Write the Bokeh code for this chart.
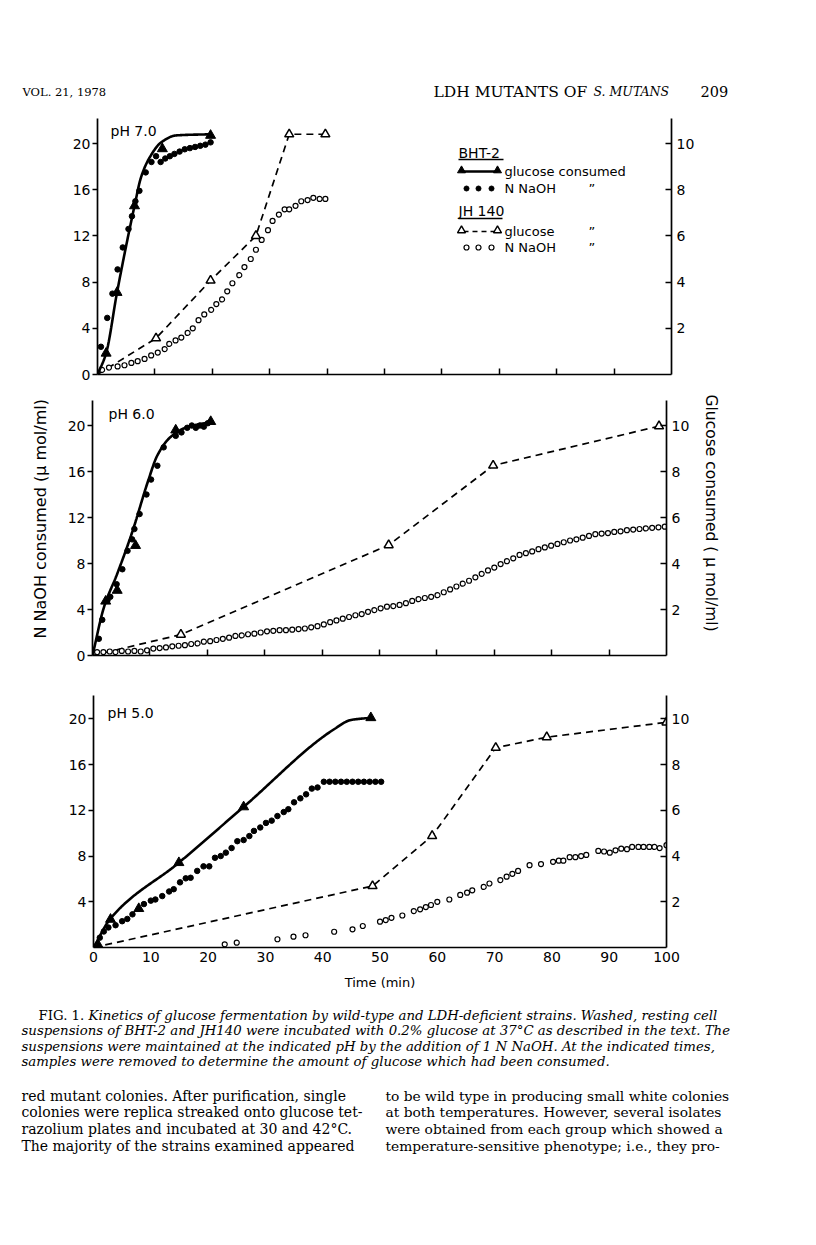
import math
import numpy as np
from bokeh.plotting import figure
from bokeh.models import Range1d, LinearAxis, FixedTicker, Title
from bokeh.layouts import column
from bokeh.embed import file_html
from bokeh.resources import INLINE
from bokeh.core.properties import value

SANS = "DejaVu Sans"
SERIF = "DejaVu Serif"

# ------------------------------------------------------------------ data
# glucose values in umol/ml (right axis), NaOH in umol/ml (left axis), time in min
# ---- pH 7.0
ph7_bht_glc_t = [1.5, 3.4, 6.45, 11.3, 19.7]
ph7_bht_glc = [0.92, 3.55, 7.3, 9.77, 10.35]
ph7_bht_fit_t = [0, 1.5, 3.4, 6.45, 7.6, 9.1, 11.1, 13.7, 19.7]
ph7_bht_fit = [0, 0.92, 3.55, 7.3, 8.55, 9.4, 10.05, 10.35, 10.4]
ph7_bht_naoh_t = [0.6, 1.7, 2.6, 3.5, 4.4, 5.4, 6.0, 6.6, 7.3, 8.4, 9.4, 10.2, 11.0, 11.8,
                  12.6, 13.4, 14.3, 15.2, 16.1, 17.0, 17.9, 18.8, 19.7]
ph7_bht_naoh = [2.4, 4.9, 7.0, 9.1, 11.0, 12.6, 13.7, 15.0, 15.9, 17.5, 18.4, 18.9, 18.4, 18.7,
                18.9, 19.1, 19.3, 19.5, 19.6, 19.7, 19.8, 19.9, 20.1]
ph7_jh_glc_t = [0, 10.2, 19.7, 27.6, 33.4, 39.7]
ph7_jh_glc = [0, 1.57, 4.07, 6.0, 10.4, 10.4]
ph7_jh_naoh_t = [0.8, 2.0, 3.5, 4.7, 5.9, 7.0, 8.2, 9.35, 10.5, 11.7, 12.5, 13.6, 14.6, 15.7,
                 16.6, 17.6, 18.6, 19.8, 20.7, 21.7, 22.6, 23.5, 24.7, 25.6, 26.7, 27.6, 28.6,
                 29.7, 30.5, 31.6, 32.6, 33.4, 34.5, 35.5, 36.6, 37.6, 38.7, 39.7]
ph7_jh_naoh = [0.4, 0.6, 0.7, 0.8, 1.0, 1.15, 1.35, 1.65, 1.9, 2.2, 2.65, 2.95, 3.2, 3.6,
               4.0, 4.7, 5.2, 5.6, 6.1, 6.5, 7.2, 7.9, 8.6, 9.3, 10.0, 10.8, 11.65,
               12.5, 13.3, 13.85, 14.3, 14.3, 14.6, 15.0, 15.1, 15.3, 15.2, 15.2]

# ---- pH 6.0
ph6_bht_glc_t = [2.3, 4.3, 7.5, 14.5, 20.6]
ph6_bht_glc = [2.36, 2.83, 4.78, 9.8, 10.17]
ph6_bht_fit_t = [0, 2.0, 4.3, 6.9, 9.7, 11.3, 13.6, 16.5, 20.6]
ph6_bht_fit = [0, 2.1, 3.55, 5.35, 7.6, 8.7, 9.5, 9.93, 10.15]
ph6_bht_naoh_t = [1.1, 1.7, 2.6, 3.1, 4.2, 5.2, 6.1, 6.9, 7.3, 8.2, 9.4, 10.2, 11.3, 12.4,
                  14.5, 15.5, 16.5, 17.3, 18.0, 18.7, 19.4, 20.1]
ph6_bht_naoh = [1.45, 3.1, 4.8, 5.1, 6.2, 7.5, 9.1, 10.1, 11.0, 12.3, 14.0, 15.3, 16.5, 18.1,
                19.1, 19.4, 19.8, 20.0, 19.8, 20.0, 19.9, 20.2]
ph6_jh_glc_t = [0, 15.4, 51.6, 69.8, 98.7]
ph6_jh_glc = [0, 0.91, 4.8, 8.26, 9.97]
ph6_jh_naoh_t = [0.8, 1.9, 3.0, 4.0, 5.1, 6.2, 7.3, 8.4, 9.5, 10.6, 11.7, 12.8, 13.9, 15.0,
                 16.1, 17.2, 18.3, 19.4, 20.5, 21.6, 22.7, 23.8, 24.9, 26.0, 27.1, 28.2, 29.3,
                 30.4, 31.5, 32.6, 33.7, 34.8, 35.9, 37.0, 38.1, 39.2, 40.3, 41.4, 42.5, 43.6,
                 44.7, 45.8, 46.9, 48.0, 49.1, 50.2, 51.3, 52.4, 53.5, 54.6, 55.7, 56.8, 57.9,
                 59.0, 60.1, 61.2, 62.3, 63.4, 64.5, 65.6, 66.7, 67.8, 68.9, 70.0, 71.1, 72.2,
                 73.3, 74.4, 75.5, 76.6, 77.7, 78.8, 79.9, 81.0, 82.1, 83.2, 84.3, 85.4, 86.5,
                 87.6, 88.7, 89.8, 90.9, 92.0, 93.1, 94.2, 95.3, 96.4, 97.5, 98.6, 99.7]
ph6_jh_naoh = [0.3, 0.3, 0.35, 0.3, 0.4, 0.35, 0.4, 0.35, 0.45, 0.6, 0.65, 0.7, 0.8, 0.85,
               0.9, 1.0, 1.05, 1.2, 1.25, 1.35, 1.45, 1.55, 1.7, 1.75, 1.85, 1.9, 2.0,
               2.1, 2.15, 2.2, 2.2, 2.25, 2.3, 2.35, 2.45, 2.55, 2.7, 2.9, 3.05, 3.2,
               3.35, 3.5, 3.6, 3.8, 3.95, 4.1, 4.25, 4.3, 4.4, 4.55, 4.75, 4.9, 5.0,
               5.1, 5.25, 5.5, 5.75, 6.0, 6.25, 6.5, 6.8, 7.1, 7.4, 7.65, 7.95, 8.2,
               8.45, 8.75, 8.9, 9.05, 9.25, 9.4, 9.55, 9.7, 9.85, 10.0, 10.1, 10.25, 10.4,
               10.55, 10.6, 10.65, 10.75, 10.8, 10.9, 10.95, 11.0, 11.05, 11.1, 11.15, 11.2]

# ---- pH 5.0
ph5_bht_glc_t = [0.9, 2.97, 7.9, 14.9, 26.2, 48.4]
ph5_bht_glc = [0.07, 1.23, 1.7, 3.71, 6.15, 10.05]
ph5_bht_fit_t = [0, 2.97, 14.9, 26.2, 42.0, 44.9, 48.4]
ph5_bht_fit = [0, 1.27, 3.71, 6.15, 9.55, 9.95, 10.05]
ph5_bht_naoh_t = [1.1, 1.8, 2.6, 3.85, 5.0, 5.9, 6.8, 8.8, 10.0, 10.8, 12.0, 13.2, 14.0, 15.1,
                  16.1, 16.95, 18.1, 19.2, 20.2, 21.2, 22.2, 23.1, 24.1, 25.1, 26.2, 27.2, 28.0,
                  29.1, 30.1, 31.1, 32.1, 33.2, 34.0, 35.0, 36.1, 37.1, 38.1, 39.1, 40.2, 41.2,
                  42.2, 43.2, 44.2, 45.2, 46.2, 47.2, 48.2, 49.2, 50.2]
ph5_bht_naoh = [0.86, 1.4, 1.75, 1.95, 2.3, 2.5, 2.9, 3.8, 4.1, 4.2, 4.5, 4.9, 5.1, 5.7,
                6.05, 6.1, 6.7, 7.1, 7.1, 7.85, 8.0, 8.3, 8.7, 9.3, 9.4, 9.75, 10.2,
                10.5, 10.9, 11.1, 11.5, 11.85, 12.1, 12.7, 13.05, 13.4, 13.9, 14.0, 14.5, 14.5,
                14.5, 14.5, 14.5, 14.5, 14.5, 14.5, 14.5, 14.5, 14.5]
ph5_jh_glc_t = [0, 48.7, 59.1, 70.2, 79.1, 100.0]
ph5_jh_glc = [0, 2.69, 4.88, 8.74, 9.2, 9.85]
ph5_jh_naoh_t = [22.9, 25.0, 32.1, 34.9, 37.0, 42.0, 45.2, 47.0, 50.0, 51.0, 52.0, 53.9, 55.9,
                 57.0, 58.0, 58.9, 60.0, 62.1, 64.0, 65.2, 66.1, 68.1, 69.1, 71.0, 72.1, 73.1,
                 74.1, 76.1, 78.1, 80.2, 81.2, 82.0, 83.1, 84.1, 85.1, 86.0, 88.1, 89.1, 90.1,
                 91.1, 92.1, 93.1, 94.0, 95.1, 96.0, 97.0, 97.9, 98.8, 100.0]
ph5_jh_naoh = [0.28, 0.42, 0.72, 0.95, 1.07, 1.38, 1.59, 1.88, 2.26, 2.4, 2.6, 2.8, 3.19,
               3.34, 3.54, 3.72, 4.0, 4.2, 4.6, 4.8, 5.0, 5.3, 5.6, 5.9, 6.2, 6.45,
               6.7, 7.2, 7.3, 7.5, 7.6, 7.6, 7.9, 7.9, 8.0, 8.1, 8.45, 8.4, 8.3,
               8.5, 8.65, 8.6, 8.8, 8.8, 8.8, 8.8, 8.8, 8.7, 8.95]

# ---- ticks / texts
left_ticks = [0, 4, 8, 12, 16, 20]
left_ticks_bottom = [4, 8, 12, 16, 20]
right_ticks = [2, 4, 6, 8, 10]
x_ticks = [10, 20, 30, 40, 50, 60, 70, 80, 90]
x_ticks_bottom = [0, 10, 20, 30, 40, 50, 60, 70, 80, 90, 100]
ph_labels = ["pH 7.0", "pH 6.0", "pH 5.0"]
y_title_left = "N NaOH consumed (\u00b5 mol/ml)"
y_title_right = "Glucose consumed ( \u00b5 mol/ml)"
x_title = "Time (min)"
legend_heads = ["BHT-2", "JH 140"]
legend_texts = ["glucose consumed", "N NaOH", "glucose", "N NaOH"]
ditto = "\u201d"

header_left = "VOL. 21, 1978"
header_title = "LDH MUTANTS OF "
header_title_it = "S. MUTANS"
header_page = "209"
caption_fig = "FIG. 1."
caption_lines = [
    "Kinetics of glucose fermentation by wild-type and LDH-deficient strains. Washed, resting cell",
    "suspensions of BHT-2 and JH140 were incubated with 0.2% glucose at 37\u00b0C as described in the text. The",
    "suspensions were maintained at the indicated pH by the addition of 1 N NaOH. At the indicated times,",
    "samples were removed to determine the amount of glucose which had been consumed.",
]
body_left = [
    "red mutant colonies. After purification, single",
    "colonies were replica streaked onto glucose tet-",
    "razolium plates and incubated at 30 and 42\u00b0C.",
    "The majority of the strains examined appeared",
]
body_right = [
    "to be wild type in producing small white colonies",
    "at both temperatures. However, several isolates",
    "were obtained from each group which showed a",
    "temperature-sensitive phenotype; i.e., they pro-",
]

PAGE_W = 816


def pchip(xk, yk, n=240):
    x = np.asarray(xk, float)
    y = np.asarray(yk, float)
    h = np.diff(x)
    d = np.diff(y) / h
    m = np.zeros_like(x)
    m[0], m[-1] = d[0], d[-1]
    for k in range(1, len(x) - 1):
        if d[k - 1] * d[k] > 0:
            w1 = 2 * h[k] + h[k - 1]
            w2 = h[k] + 2 * h[k - 1]
            m[k] = (w1 + w2) / (w1 / d[k - 1] + w2 / d[k])
    xs = np.linspace(x[0], x[-1], n)
    idx = np.clip(np.searchsorted(x, xs) - 1, 0, len(x) - 2)
    t = (xs - x[idx]) / h[idx]
    h00 = 2 * t**3 - 3 * t**2 + 1
    h10 = t**3 - 2 * t**2 + t
    h01 = -2 * t**3 + 3 * t**2
    h11 = t**3 - t**2
    ys = h00 * y[idx] + h10 * h[idx] * m[idx] + h01 * y[idx + 1] + h11 * h[idx] * m[idx + 1]
    return xs, ys


def no_align(p):
    try:
        p.frame_align = False
    except Exception:
        pass


# panel geometry (pixels): height, border top, border bottom, border left, frame width, px per NaOH unit
GEOM = [
    dict(height=292, top=18, bottom=18, left=97, w=574, ppu=11.55),
    dict(height=281, top=8, bottom=18, left=92, w=574, ppu=11.5),
    dict(height=327, top=22, bottom=53, left=93, w=573, ppu=11.43),
]


def make_panel(i, data, show_labels):
    g = GEOM[i]
    fh = g["height"] - g["top"] - g["bottom"]
    ymax = fh / g["ppu"]
    p = figure(width=PAGE_W, height=g["height"], x_range=Range1d(0, 100), y_range=Range1d(0, ymax),
               output_backend="svg", toolbar_location=None,
               min_border_top=g["top"], min_border_bottom=g["bottom"],
               min_border_left=g["left"], min_border_right=PAGE_W - g["left"] - g["w"],
               x_axis_location=None, y_axis_location=None)
    no_align(p)
    p.grid.visible = False
    p.outline_line_color = None
    p.background_fill_color = "white"
    p.border_fill_color = "white"
    p.extra_y_ranges = {"g": Range1d(0, ymax / 2)}

    common = dict(axis_line_width=1.7, axis_line_color="black", major_tick_line_width=1.5,
                  minor_tick_in=0, minor_tick_out=0,
                  major_label_text_font=SANS, major_label_text_font_size="14px",
                  major_label_text_color="black")
    lt = left_ticks_bottom if show_labels else left_ticks
    la = LinearAxis(ticker=FixedTicker(ticks=lt), major_tick_out=5, major_tick_in=0,
                    major_label_standoff=2, **common)
    p.add_layout(la, "left")
    ra = LinearAxis(y_range_name="g", ticker=FixedTicker(ticks=right_ticks), major_tick_out=0,
                    major_tick_in=6, major_label_standoff=5, **common)
    p.add_layout(ra, "right")
    if show_labels:
        ba = LinearAxis(ticker=FixedTicker(ticks=x_ticks_bottom), major_tick_out=0, major_tick_in=0,
                        major_label_standoff=4, axis_label=x_title,
                        axis_label_text_font=SANS, axis_label_text_font_size="13px",
                        axis_label_text_font_style="normal", axis_label_standoff=10,
                        axis_label_text_color="black", **common)
    else:
        cb = dict(common)
        cb["major_label_text_font_size"] = "1px"
        ba = LinearAxis(ticker=FixedTicker(ticks=x_ticks), major_tick_out=0, major_tick_in=6,
                        major_label_standoff=0,
                        major_label_overrides={t: "" for t in x_ticks}, **cb)
    p.add_layout(ba, "below")

    (bg_t, bg, bf_t, bf, bn_t, bn, jg_t, jg, jn_t, jn) = data
    # JH140
    p.line(jg_t, jg, y_range_name="g", line_color="black", line_width=1.7, line_dash="7 5")
    p.scatter(jn_t, jn, marker="circle", size=5, fill_color="white", line_color="black",
              line_width=1.2)
    p.scatter(jg_t[1:], jg[1:], marker="triangle", size=9, y_range_name="g",
              fill_color="white", line_color="black", line_width=1.5)
    # BHT-2
    fx, fy = pchip(bf_t, bf)
    p.line(fx, fy, y_range_name="g", line_color="black", line_width=2.6)
    p.scatter(bn_t, bn, marker="circle", size=5.5, fill_color="black", line_color="black")
    p.scatter(bg_t, bg, marker="triangle", size=10, y_range_name="g",
              fill_color="black", line_color="black")

    # pH label (position in pixels from frame top-left)
    px2x = lambda px: px / g["w"] * 100
    py2y = lambda py: ymax - py / g["ppu"]
    pos = [(13, 12), (16, 13), (14, 17)][i]
    p.text(x=[px2x(pos[0])], y=[py2y(pos[1])], text=[ph_labels[i]], text_font=value(SANS),
           text_font_size="14px", text_baseline="middle", text_align="left", text_color="black")
    return p, px2x, py2y


p1, x1, y1 = make_panel(0, (ph7_bht_glc_t, ph7_bht_glc, ph7_bht_fit_t, ph7_bht_fit,
                            ph7_bht_naoh_t, ph7_bht_naoh, ph7_jh_glc_t, ph7_jh_glc,
                            ph7_jh_naoh_t, ph7_jh_naoh), False)
p2, x2, y2 = make_panel(1, (ph6_bht_glc_t, ph6_bht_glc, ph6_bht_fit_t, ph6_bht_fit,
                            ph6_bht_naoh_t, ph6_bht_naoh, ph6_jh_glc_t, ph6_jh_glc,
                            ph6_jh_naoh_t, ph6_jh_naoh), False)
p3, x3, y3 = make_panel(2, (ph5_bht_glc_t, ph5_bht_glc, ph5_bht_fit_t, ph5_bht_fit,
                            ph5_bht_naoh_t, ph5_bht_naoh, ph5_jh_glc_t, ph5_jh_glc,
                            ph5_jh_naoh_t, ph5_jh_naoh), True)

# ---- legend in top panel (pixel offsets inside the frame, converted to data units)
ft = dict(text_font=value(SANS), text_font_size="13px", text_baseline="middle",
          text_align="left", text_color="black")
p1.text(x=[x1(361), x1(361)], y=[y1(34), y1(92)], text=legend_heads, text_font=value(SANS),
        text_font_size="14px", text_baseline="middle", text_align="left", text_color="black")
p1.segment(x0=[x1(361), x1(361)], y0=[y1(41), y1(100)], x1=[x1(406), x1(405)],
           y1=[y1(41), y1(100)], line_color="black", line_width=1.4)
rows = [53, 70, 113, 129]
p1.text(x=[x1(407)] * 4, y=[y1(r) for r in rows], text=legend_texts, **ft)
p1.text(x=[x1(491)] * 3, y=[y1(r) for r in rows[1:]], text=[ditto] * 3, **ft)
p1.line(x=[x1(364), x1(400)], y=[y1(53), y1(53)], line_color="black", line_width=2.4)
p1.scatter(x=[x1(364), x1(400)], y=[y1(52), y1(52)], marker="triangle", size=8,
           fill_color="black", line_color="black")
p1.scatter(x=[x1(369), x1(381), x1(394)], y=[y1(70)] * 3, marker="circle", size=5,
           fill_color="black", line_color="black")
p1.line(x=[x1(366), x1(398)], y=[y1(113), y1(113)], line_color="black", line_width=1.5,
        line_dash="5 4")
p1.scatter(x=[x1(364), x1(400)], y=[y1(112), y1(112)], marker="triangle", size=8,
           fill_color="white", line_color="black", line_width=1.4)
p1.scatter(x=[x1(369), x1(381), x1(394)], y=[y1(129)] * 3, marker="circle", size=5,
           fill_color="white", line_color="black", line_width=1.2)

# ---- axis titles on middle panel (titles placed on the side panels)
p2.add_layout(Title(text=y_title_left, align="left", offset=17, standoff=30,
                    text_font=SANS, text_font_size="16px", text_font_style="normal",
                    text_color="black"), "left")
p2.add_layout(Title(text=y_title_right, align="left", offset=-6, standoff=18,
                    text_font=SANS, text_font_size="15.5px", text_font_style="normal",
                    text_color="black"), "right")


def text_fig(height):
    p = figure(width=PAGE_W, height=height, x_range=Range1d(0, PAGE_W),
               y_range=Range1d(height, 0),
               output_backend="svg", toolbar_location=None, min_border_left=0,
               min_border_right=0, min_border_top=0, min_border_bottom=0,
               x_axis_location=None, y_axis_location=None)
    no_align(p)
    p.grid.visible = False
    p.outline_line_color = None
    p.background_fill_color = "white"
    p.border_fill_color = "white"
    return p


head = text_fig(100)
hs = dict(text_font=value(SERIF), text_baseline="middle", text_align="left", text_color="black")
head.text(x=[22], y=[91], text=[header_left], text_font_size="11.5px", **hs)
head.text(x=[433], y=[91], text=[header_title], text_font_size="15.5px", **hs)
head.text(x=[593], y=[91], text=[header_title_it], text_font_size="12.5px",
          text_font_style="italic", **hs)
head.text(x=[700], y=[91], text=[header_page], text_font_size="14.5px", **hs)

foot = text_fig(245)
foot.text(x=[38], y=[15], text=[caption_fig], text_font_size="13.3px", **hs)
foot.text(x=[88, 21, 21, 21], y=[15, 30, 46, 61], text=caption_lines, text_font_size="13.3px",
          text_font_style="italic", **hs)
foot.text(x=[21] * 4, y=[95, 111, 128, 145], text=body_left, text_font_size="14px", **hs)
foot.text(x=[385] * 4, y=[95, 111, 128, 145], text=body_right, text_font_size="13.8px", **hs)

layout = column(head, p1, p2, p3, foot, spacing=0)
open("out.html", "w").write(file_html(layout, INLINE))
